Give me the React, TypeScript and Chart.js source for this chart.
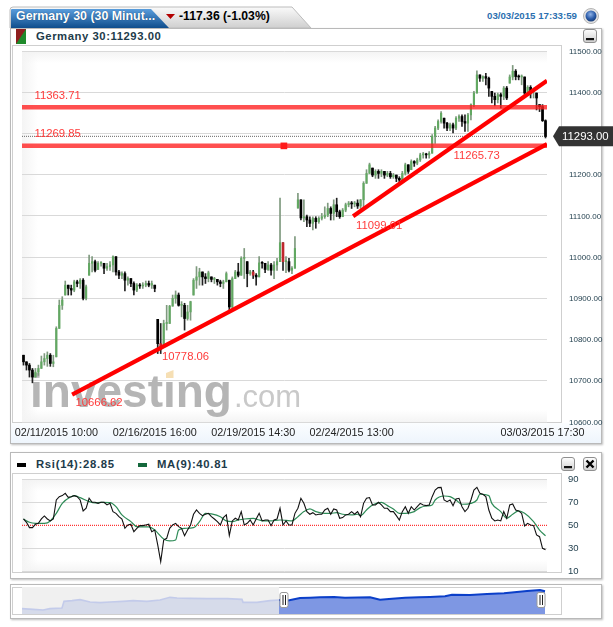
import React, { useEffect, useRef } from "react";
import { Chart, registerables } from "chart.js";

Chart.register(...registerables);

const closes = [
  10746,10738,10726,10709,10721,10730,10746,10754,10762,10742,10746,10827,10883,10896,10932,10924,10920,10940,10936,10944,
  10900,10928,10985,10989,10968,10985,10985,10973,10977,10981,11001,10964,10956,10960,10944,10948,10936,10920,10932,10930,
  10932,10936,10932,10936,10924,10790,10782,10839,10839,10881,10900,10908,10883,10883,10851,10867,10892,10944,10952,10964,
  10952,10948,10962,10946,10946,10940,10936,10940,10960,10879,10948,10964,10956,10997,10997,10960,10964,10956,10952,10986,
  10985,10970,10981,10968,10981,10989,11035,10989,10989,10968,10973,11021,11139,11095,
  11098,11090,11082,11094,11086,11094,11098,11102,11118,11106,11127,11110,11098,11114,11127,11131,11129,11131,11124,11139,
  11179,11203,11224,11199,11208,11203,11208,11199,11203,11195,11199,11191,11187,11203,11224,11208,11232,11228,11236,11248,
  11250,11248,11252,11293,11313,11329,11349,11325,11313,11321,11313,11337,11341,11329,11325,11345,11370,11398,11442,11434,
  11438,11434,11410,11390,11382,11394,11390,11410,11386,11437,11451,11438,11437,11437,11398,11412,11402,11406,11386,11365,
  11331,11293,
];
const highs = [
  10762,10746,10742,10730,10730,10738,10760,10766,10770,10766,10762,10831,10896,10904,10942,10932,10932,10944,10944,10948,
  10948,10932,11005,11001,10993,10989,10989,10985,10985,10989,11003,11001,10968,10964,10964,10952,10948,10940,10936,10936,
  10938,10942,10942,10942,10932,10849,10839,10847,10883,10883,10908,10918,10913,10892,10888,10883,10893,10948,10977,10973,
  10964,10960,10966,10952,10951,10946,10944,10944,10964,10944,10952,10968,10985,11001,11021,10989,10968,10968,10960,11001,
  10989,10985,10989,10985,10989,10997,11143,11035,11001,10997,10977,11050,11155,11139,
  11139,11102,11098,11098,11098,11098,11106,11122,11131,11122,11139,11143,11114,11118,11131,11135,11135,11135,11139,11140,
  11183,11212,11228,11216,11212,11212,11212,11208,11208,11208,11203,11199,11195,11208,11228,11224,11236,11234,11240,11252,
  11254,11252,11256,11297,11317,11333,11353,11337,11327,11325,11325,11341,11345,11345,11345,11349,11372,11402,11452,11442,
  11440,11446,11437,11402,11398,11398,11398,11414,11414,11442,11465,11455,11442,11442,11437,11416,11416,11410,11398,11370,
  11370,11333,
];
const lows = [
  10738,10726,10709,10695,10709,10713,10730,10738,10735,10735,10734,10758,10827,10873,10908,10908,10908,10916,10928,10924,
  10896,10896,10956,10964,10964,10970,10978,10960,10968,10968,10964,10956,10948,10948,10918,10932,10928,10908,10916,10924,
  10924,10928,10928,10924,10916,10766,10766,10786,10823,10839,10881,10888,10881,10855,10823,10847,10847,10908,10924,10932,
  10932,10936,10940,10940,10936,10932,10928,10924,10940,10871,10875,10948,10952,10956,10948,10928,10956,10948,10932,10952,
  10973,10962,10968,10956,10948,10968,10989,10968,10962,10964,10960,10973,11119,11090,
  11086,11074,11074,11066,11070,11082,11090,11094,11098,11090,11090,11098,11094,11098,11110,11122,11118,11122,11118,11118,
  11122,11179,11203,11195,11191,11191,11195,11191,11195,11191,11191,11183,11179,11183,11199,11203,11212,11220,11224,11232,
  11240,11240,11240,11252,11276,11309,11325,11313,11307,11307,11301,11309,11329,11317,11305,11305,11333,11365,11398,11426,
  11426,11418,11390,11374,11367,11374,11362,11382,11382,11422,11430,11430,11430,11418,11394,11394,11386,11386,11357,11353,
  11329,11289,
];
const redBars = [5, 14, 35, 46, 67, 77, 87, 128];

const rsiValues = [
  55.5,52.6,48,48,50.9,51.7,55.5,58.1,55.5,53.8,55.5,72,74.9,75.8,77.8,74.3,74.9,75.8,74.9,72,
  62.5,64.8,73.5,70,70,69.1,70,70,67.7,69.1,61.9,60.4,57.5,55.5,47.4,50.3,50.9,44.5,47.4,49.7,
  49.7,50.3,50.9,44.5,45.9,32.9,18.4,37.2,38.7,47.4,50.3,51.7,48.8,47.4,41,45.9,50.3,59.6,63.3,60.4,
  58.4,59.6,60.4,57.5,55.5,53.2,50.3,56.7,59,41,53.8,56.1,54.6,61.9,50.3,51.7,54.6,50.3,55.5,60.4,
  53.8,54.6,54.6,49.7,54.6,55.5,64.8,50.3,53.8,50.3,50.3,60.4,64.8,73.5,
  69.1,61.9,59.6,61,59,59.6,59.6,63.3,64.8,59.6,64.2,63.3,56.1,56.7,59,59.6,61.9,59.6,61.9,57.5,
  69.1,73.5,74.1,67.7,67.7,70,67.7,64.8,64.8,61.9,61.9,58.4,54.6,61.9,66.2,60.4,66.2,63.3,66.2,69.1,
  67.7,67.1,67.7,74.9,80.7,82.8,83,72,70.6,72,67.1,72.9,73.5,66.2,61.9,64.8,72,80.7,83,77.8,
  77,74.9,63.3,56.1,53.8,54.6,53.8,61.9,56.1,67.7,68.6,63.3,62.5,60.4,49.4,51.7,50.3,49.7,41.6,40.1,
  30,28.85,
];
const maIndex = [
  0,2,4,7,9,11,13,16,17,19,22,24,26,29,31,33,36,38,40,42,44,47,49,51,52,54,57,59,61,63,66,68,70,72,74,77,79,81,83,86,88,90,92,94,
  96,98,101,103,105,107,110,112,113,115,117,120,122,124,126,128,131,133,135,137,138,141,143,145,147,150,152,153,156,157,160,162,164,166,168,171,173,175,
];
const maValues = [
  55.5,52.6,51.7,51.7,53.8,60.4,69.1,74.9,75.8,74.1,70.6,69.4,70,69.7,66.2,59,53.2,48.8,48.6,48.6,45.9,38.1,36.4,37.2,45.9,47.4,48,53.2,60.4,59.9,57.5,53.8,53.2,54.6,55.5,56.1,54.6,53.8,53.8,54.6,54.3,53.8,57.5,61.9,
  64.2,61.9,60.4,60.4,61,59.6,59,59.6,58.4,63.3,67.7,70,67.1,64.2,60.4,60.4,61.9,65.4,66.8,67.7,72,75.5,74.9,72,68.3,69.1,72,77,75.8,69.1,61.9,56.1,59.6,62.5,60.4,53.2,45.9,40.81,
];

const navPos = [0,11,21,28,40,42,50,58,68,78,88,101,111,125,138,148,155,168,185,205,220,221,235,248,257];
const navLevels = [16,14,12,16,18,38,40,43,36,34,36,38,40,38,42,50,48,47,46,46,44,35,35,40,42];
const navPosSel = [257,265,278,288,298,312,323,348,358,370,383,397,408,423,430,448,465,482,505,518,523];
const navLevelsSel = [42,40,48,49,50,51,49,50,43,46,49,50,51,53,58,57,60,62,69,72,68];

const priceLevels = [11363.71, 11269.85];
const lastPrice = 11293;
const trendStart = [10666.62, 11099.01];
const trendEnd = [11274, 11428];
const trendFrom = [16.3, 110.5];
const annotations = ["11363.71", "11269.85", "11265.73", "11099.01", "10778.06", "10666.62"];
const xTickLabels = ["02/11/2015 10:00", "02/16/2015 16:00", "02/19/2015 14:30", "02/24/2015 13:00", "03/03/2015 17:30"];
const xTickIndexes = [11, 44, 77, 110, 174];

const N = closes.length;
const XMIN = -0.5;
const XMAX = N - 0.5;
const SANS = "'Liberation Sans', Arial, sans-serif";
const DARK = "#1d3b4a";
const GRID = "#d9d9d9";

const annotationAt = [
  [34.5, 95.5], [34.5, 134], [453.5, 156], [356, 225.5], [162, 357], [75.5, 403],
];

const MAIN_TOP = 45;

const mainPlugin = {
  id: "mainOverlay",
  beforeDatasetsDraw(chart: any) {
    const c = chart.ctx;
    c.save();
    c.textBaseline = "alphabetic";
    c.textAlign = "left";
    c.fillStyle = "#b5b5b5";
    c.font = `bold 46px ${SANS}`;
    c.fillText("investing", 30, 407 - MAIN_TOP);
    c.fillStyle = "#c9c9c9";
    c.font = `31px ${SANS}`;
    c.fillText(".com", 234, 407 - MAIN_TOP);
    c.fillStyle = "#f6dfb4";
    c.beginPath();
    c.moveTo(166, 373 - MAIN_TOP);
    c.lineTo(173.5, 370 - MAIN_TOP);
    c.lineTo(173.5, 378 - MAIN_TOP);
    c.lineTo(166, 378 - MAIN_TOP);
    c.closePath();
    c.fill();
    c.restore();
  },
  afterDatasetsDraw(chart: any) {
    const c = chart.ctx;
    c.save();
    c.font = `11.3px ${SANS}`;
    c.fillStyle = "#ff3b3b";
    c.textAlign = "left";
    c.textBaseline = "middle";
    annotations.forEach((t, i) => {
      c.fillText(t, annotationAt[i][0], annotationAt[i][1] - MAIN_TOP);
    });
    const y = chart.scales.y.getPixelForValue(lastPrice);
    c.fillStyle = "#333333";
    c.beginPath();
    c.moveTo(553, y);
    c.lineTo(559, y - 10);
    c.lineTo(613, y - 10);
    c.lineTo(613, y + 10);
    c.lineTo(559, y + 10);
    c.closePath();
    c.fill();
    c.fillStyle = "#ffffff";
    c.font = `11.4px ${SANS}`;
    c.fillText(lastPrice.toFixed(2), 562, y + 0.5);
    c.restore();
  },
};

const navPlugin = {
  id: "navBack",
  beforeDatasetsDraw(chart: any) {
    const { left, top, height } = chart.chartArea;
    const x = chart.scales.x.getPixelForValue(navPosSel[0]);
    chart.ctx.save();
    chart.ctx.fillStyle = "#f0f0f0";
    chart.ctx.fillRect(left, top, x - left, height);
    chart.ctx.restore();
  },
};

const noPad = (s: any) => {
  s.paddingTop = 0;
  s.paddingBottom = 0;
  s.paddingLeft = 0;
  s.paddingRight = 0;
};

function App() {
  const mainRef = useRef<HTMLCanvasElement>(null);
  const rsiRef = useRef<HTMLCanvasElement>(null);
  const navRef = useRef<HTMLCanvasElement>(null);

  useEffect(() => {
    const labels = closes.map((_, i) => {
      const k = xTickIndexes.indexOf(i);
      return k >= 0 ? xTickLabels[k] : "";
    });
    const opens = closes.map((_, i) =>
      i === 0 ? highs[0] : Math.min(highs[i], Math.max(lows[i], closes[i - 1]))
    );
    const isUp = (i: number) => closes[i] >= opens[i];
    const wickColor = closes.map((_, i) => (isUp(i) ? "#7f9a7f" : "#222222"));

    const lineDs = (data: any[], color: string, width: number, extra: any = {}) => ({
      type: "line",
      data,
      xAxisID: "xl",
      borderColor: color,
      borderWidth: width,
      pointRadius: 0,
      tension: 0,
      order: 1,
      ...extra,
    });

    const main = new Chart(mainRef.current!, {
      type: "bar",
      data: {
        labels,
        datasets: [
          {
            data: closes.map((_, i) => [lows[i], highs[i]]),
            backgroundColor: wickColor,
            barThickness: 1,
            grouped: false,
            order: 4,
          },
          {
            data: closes.map((cl, i) => (isUp(i) ? [opens[i], cl] : null)),
            backgroundColor: "#62a862",
            barThickness: 1.5,
            minBarLength: 1,
            grouped: false,
            order: 3,
          },
          {
            data: closes.map((cl, i) => (isUp(i) ? null : [opens[i], cl])),
            backgroundColor: closes.map((_, i) => (redBars.includes(i) ? "#c0272d" : "#000000")),
            barThickness: 2,
            minBarLength: 1,
            grouped: false,
            order: 3,
          },
          lineDs([{ x: XMIN, y: lastPrice }, { x: XMAX, y: lastPrice }], "#666666", 1, { borderDash: [1, 1], order: 5 }),
          ...priceLevels.map((p) =>
            lineDs([{ x: XMIN, y: p }, { x: XMAX, y: p }], "rgba(255,30,30,0.78)", 4.5, { order: 2 })
          ),
          lineDs([{ x: 87.3, y: priceLevels[1] }], "#ff1a1a", 0, {
            pointRadius: 4.7,
            pointStyle: "rect",
            pointBackgroundColor: "#ff1a1a",
            pointBorderWidth: 0,
            showLine: false,
          }),
          ...trendStart.map((s, i) =>
            lineDs([{ x: trendFrom[i], y: s }, { x: XMAX, y: trendEnd[i] }], "#ff0000", 4.2)
          ),
        ],
      } as any,
      options: {
        animation: false,
        responsive: false,
        maintainAspectRatio: false,
        layout: { autoPadding: false, padding: { left: 22, right: 0, top: 6, bottom: 0 } },
        plugins: { legend: { display: false }, tooltip: { enabled: false } },
        scales: {
          x: {
            type: "category",
            offset: true,
            grid: { display: false },
            border: { display: false },
            afterFit: (s: any) => { s.height = 23; noPad(s); },
            ticks: {
              autoSkip: false,
              maxRotation: 0,
              minRotation: 0,
              padding: -3,
              color: "#222222",
              font: { family: SANS, size: 10.8 },
              callback: (_: any, i: number) => labels[i],
            },
          },
          xl: { type: "linear", display: false, offset: false, min: XMIN, max: XMAX },
          y: {
            position: "right",
            min: 10600,
            max: 11500,
            grid: { color: GRID, drawTicks: false },
            border: { display: false },
            afterFit: (s: any) => { s.width = 66; noPad(s); },
            ticks: {
              stepSize: 100,
              padding: 22,
              labelOffset: 0.5,
              color: DARK,
              font: { family: SANS, size: 8 },
              callback: (v: any) => (Number(v) === 11300 ? "" : Number(v).toFixed(2)),
            },
          },
        },
      } as any,
      plugins: [mainPlugin],
    } as any);

    const rsi = new Chart(rsiRef.current!, {
      type: "line",
      data: {
        datasets: [
          { data: [{ x: XMIN, y: 50 }, { x: XMAX, y: 50 }], borderColor: "#ff0000", borderWidth: 1, borderDash: [1, 1], pointRadius: 0, order: 3 },
          { data: maIndex.map((x, i) => ({ x, y: maValues[i] })), borderColor: "#2e8b57", borderWidth: 1.2, pointRadius: 0, cubicInterpolationMode: "monotone", order: 2 },
          { data: rsiValues.map((y, x) => ({ x, y })), borderColor: "#111111", borderWidth: 1.1, pointRadius: 0, tension: 0, order: 1 },
        ],
      } as any,
      options: {
        animation: false,
        responsive: false,
        maintainAspectRatio: false,
        layout: { autoPadding: false, padding: { left: 22, right: 0, top: 6.3, bottom: 6.7 } },
        plugins: { legend: { display: false }, tooltip: { enabled: false } },
        scales: {
          x: { type: "linear", display: false, min: XMIN, max: XMAX },
          y: {
            position: "right",
            min: 10,
            max: 90,
            afterBuildTicks: (s: any) => { s.ticks = [90, 70, 50, 30, 10].map((value) => ({ value })); },
            grid: { color: (c: any) => (c.tick && c.tick.value === 50 ? "rgba(0,0,0,0)" : GRID), drawTicks: false },
            border: { display: false },
            afterFit: (s: any) => { s.width = 66; noPad(s); },
            ticks: { padding: 21, labelOffset: 0.5, color: DARK, font: { family: SANS, size: 9.5 } },
          },
        },
      } as any,
    } as any);

    const nav = new Chart(navRef.current!, {
      type: "line",
      data: {
        datasets: [
          {
            data: navPos.map((x, i) => ({ x, y: navLevels[i] })),
            borderColor: "#c3cbea",
            borderWidth: 1.6,
            backgroundColor: "#d6dbea",
            fill: "origin",
            pointRadius: 0,
          },
          {
            data: navPosSel.map((x, i) => ({ x, y: navLevelsSel[i] })),
            borderColor: "#0b3fc9",
            borderWidth: 2,
            backgroundColor: "#7e97e3",
            fill: "origin",
            pointRadius: 0,
          },
        ],
      } as any,
      options: {
        animation: false,
        responsive: false,
        maintainAspectRatio: false,
        layout: { autoPadding: false, padding: { left: 22, right: 67, top: 0, bottom: 0 } },
        plugins: { legend: { display: false }, tooltip: { enabled: false } },
        scales: {
          x: { type: "linear", display: false, min: 0, max: 524 },
          y: { display: false, min: 0, max: 81 },
        },
      } as any,
      plugins: [navPlugin],
    } as any);

    return () => {
      main.destroy();
      rsi.destroy();
      nav.destroy();
    };
  }, []);

  const abs = (left: number, top: number, width: number, height: number, extra: any = {}) => ({
    position: "absolute" as const, left, top, width, height, boxSizing: "border-box" as const, ...extra,
  });
  const panel = (l: number, t: number, w: number, h: number) =>
    abs(l, t, w, h, { border: "1px solid #b9b9b9", boxShadow: "1px 1px 2px #bdbdbd", background: "#fff" });
  const inner = (l: number, t: number, w: number, h: number) =>
    abs(l, t, w, h, { border: "1px solid #cfcfcf" });
  const plotBg = (l: number, t: number, w: number, h: number) =>
    abs(l, t, w, h, {
      background:
        "linear-gradient(to bottom, #f3f3f3, rgba(255,255,255,0) 12px), linear-gradient(to top, #f4f4f4, rgba(255,255,255,0) 12px), linear-gradient(to right, #f4f4f4, rgba(255,255,255,0) 16px)",
    });
  const button = (l: number, t: number, close = false) => (
    <svg style={abs(l, t, 14, 14)} width={14} height={14}>
      <defs>
        <linearGradient id={`btn${l}${t}`} x1="0" y1="0" x2="0" y2="1">
          <stop offset="0" stopColor="#ffffff" />
          <stop offset="1" stopColor="#cfcfcf" />
        </linearGradient>
      </defs>
      <rect x={0.5} y={0.5} width={13} height={13} rx={2.5} fill={`url(#btn${l}${t})`} stroke="#8f8f8f" />
      {close ? (
        <path d="M3.5 3.5L10.5 10.5M10.5 3.5L3.5 10.5" stroke="#000" strokeWidth={2.4} />
      ) : (
        <rect x={3} y={9} width={8} height={2.2} fill="#111" />
      )}
    </svg>
  );
  const handle = (x: number) => (
    <svg style={abs(x - 5, 592, 10, 16)} width={10} height={16}>
      <rect x={1} y={0.5} width={8} height={15} rx={2} fill="#fff" stroke="#9a9a9a" />
      <path d="M4 3V13M6.5 3V13" stroke="#222" strokeWidth={1} />
    </svg>
  );
  const txt = (left: number, top: number, text: string, style: any) => (
    <div style={{ position: "absolute", left, top, whiteSpace: "nowrap", fontFamily: SANS, lineHeight: "14px", ...style }}>{text}</div>
  );

  return (
    <div style={abs(0, 0, 613, 627, { background: "#fff", overflow: "hidden" })}>
      {/* main panel */}
      <div style={panel(10, 28, 592, 416)} />
      <div style={abs(11, 423, 590, 20, { background: "linear-gradient(to bottom, #fbfdff, #eef5fc)" })} />
      <svg style={abs(0, 0, 613, 40)} width={613} height={40}>
        <defs>
          <linearGradient id="tabGrey" x1="0" y1="0" x2="0" y2="1">
            <stop offset="0" stopColor="#fafafa" />
            <stop offset="1" stopColor="#cfcfcf" />
          </linearGradient>
          <linearGradient id="tabBlue" x1="0" y1="0" x2="0" y2="1">
            <stop offset="0" stopColor="#5a9ddc" />
            <stop offset="1" stopColor="#0f4d8c" />
          </linearGradient>
          <radialGradient id="globe" cx="0.45" cy="0.35" r="0.7">
            <stop offset="0" stopColor="#8fb2e6" />
            <stop offset="0.6" stopColor="#2a5ba8" />
            <stop offset="1" stopColor="#16376e" />
          </radialGradient>
        </defs>
        <path d="M10 28V10Q10 7 13 7H292L311 28Z" fill="url(#tabGrey)" stroke="#bcbcbc" />
        <path d="M11 28V10Q11 9 12 9H151L169 28Z" fill="url(#tabBlue)" />
        <polygon points="166,14 175,14 170.5,19" fill="#b30000" />
        <circle cx={591} cy={16} r={7.5} fill="#e4e4e4" stroke="#b5b5b5" />
        <circle cx={591} cy={16} r={5.5} fill="url(#globe)" />
      </svg>
      {txt(16, 9, "Germany 30 (30 Minut...", { color: "#fff", fontWeight: 700, fontSize: 12.4, textShadow: "0 0 1px #0b3a6c" })}
      {txt(179, 9, "-117.36 (-1.03%)", { color: "#000", fontWeight: 700, fontSize: 12.2 })}
      {txt(487, 9, "03/03/2015 17:33:59", { color: "#2c6fb0", fontWeight: 700, fontSize: 9.7 })}
      <svg style={abs(16, 29, 10, 15)} width={10} height={15}>
        <rect width={10} height={15} fill="#1f8a2b" />
        <polygon points="0,0 10,0 0,15" fill="#8e1f1f" />
      </svg>
      {txt(36, 29, "Germany 30:11293.00", { color: DARK, fontWeight: 700, fontSize: 11.3, letterSpacing: "0.55px" })}
      {button(583, 29)}
      <div style={inner(12, 45, 550, 378)} />
      <div style={plotBg(22, 51, 525, 371)} />
      <canvas ref={mainRef} width={613} height={400} style={abs(0, MAIN_TOP, 613, 400, { display: "block" })} />

      {/* RSI panel */}
      <div style={panel(10, 452, 592, 127)} />
      <div style={abs(17, 463, 9, 4, { background: "#000" })} />
      {txt(36, 457, "Rsi(14):28.85", { color: DARK, fontWeight: 700, fontSize: 11.3, letterSpacing: "0.7px" })}
      <div style={abs(138, 463, 9, 4, { background: "#14683c" })} />
      {txt(157, 457, "MA(9):40.81", { color: DARK, fontWeight: 700, fontSize: 11.3, letterSpacing: "0.7px" })}
      {button(561, 457)}
      {button(583, 457, true)}
      <div style={inner(12, 473, 550, 100)} />
      <div style={plotBg(22, 479, 525, 93)} />
      <canvas ref={rsiRef} width={613} height={105} style={abs(0, 473, 613, 105, { display: "block" })} />

      {/* navigator */}
      <div style={panel(10, 584, 592, 35)} />
      <div style={inner(12, 587, 550, 28)} />
      <canvas ref={navRef} width={613} height={27} style={abs(0, 587, 613, 27, { display: "block" })} />
      {handle(284)}
      {handle(541)}
    </div>
  );
}

export default App;
